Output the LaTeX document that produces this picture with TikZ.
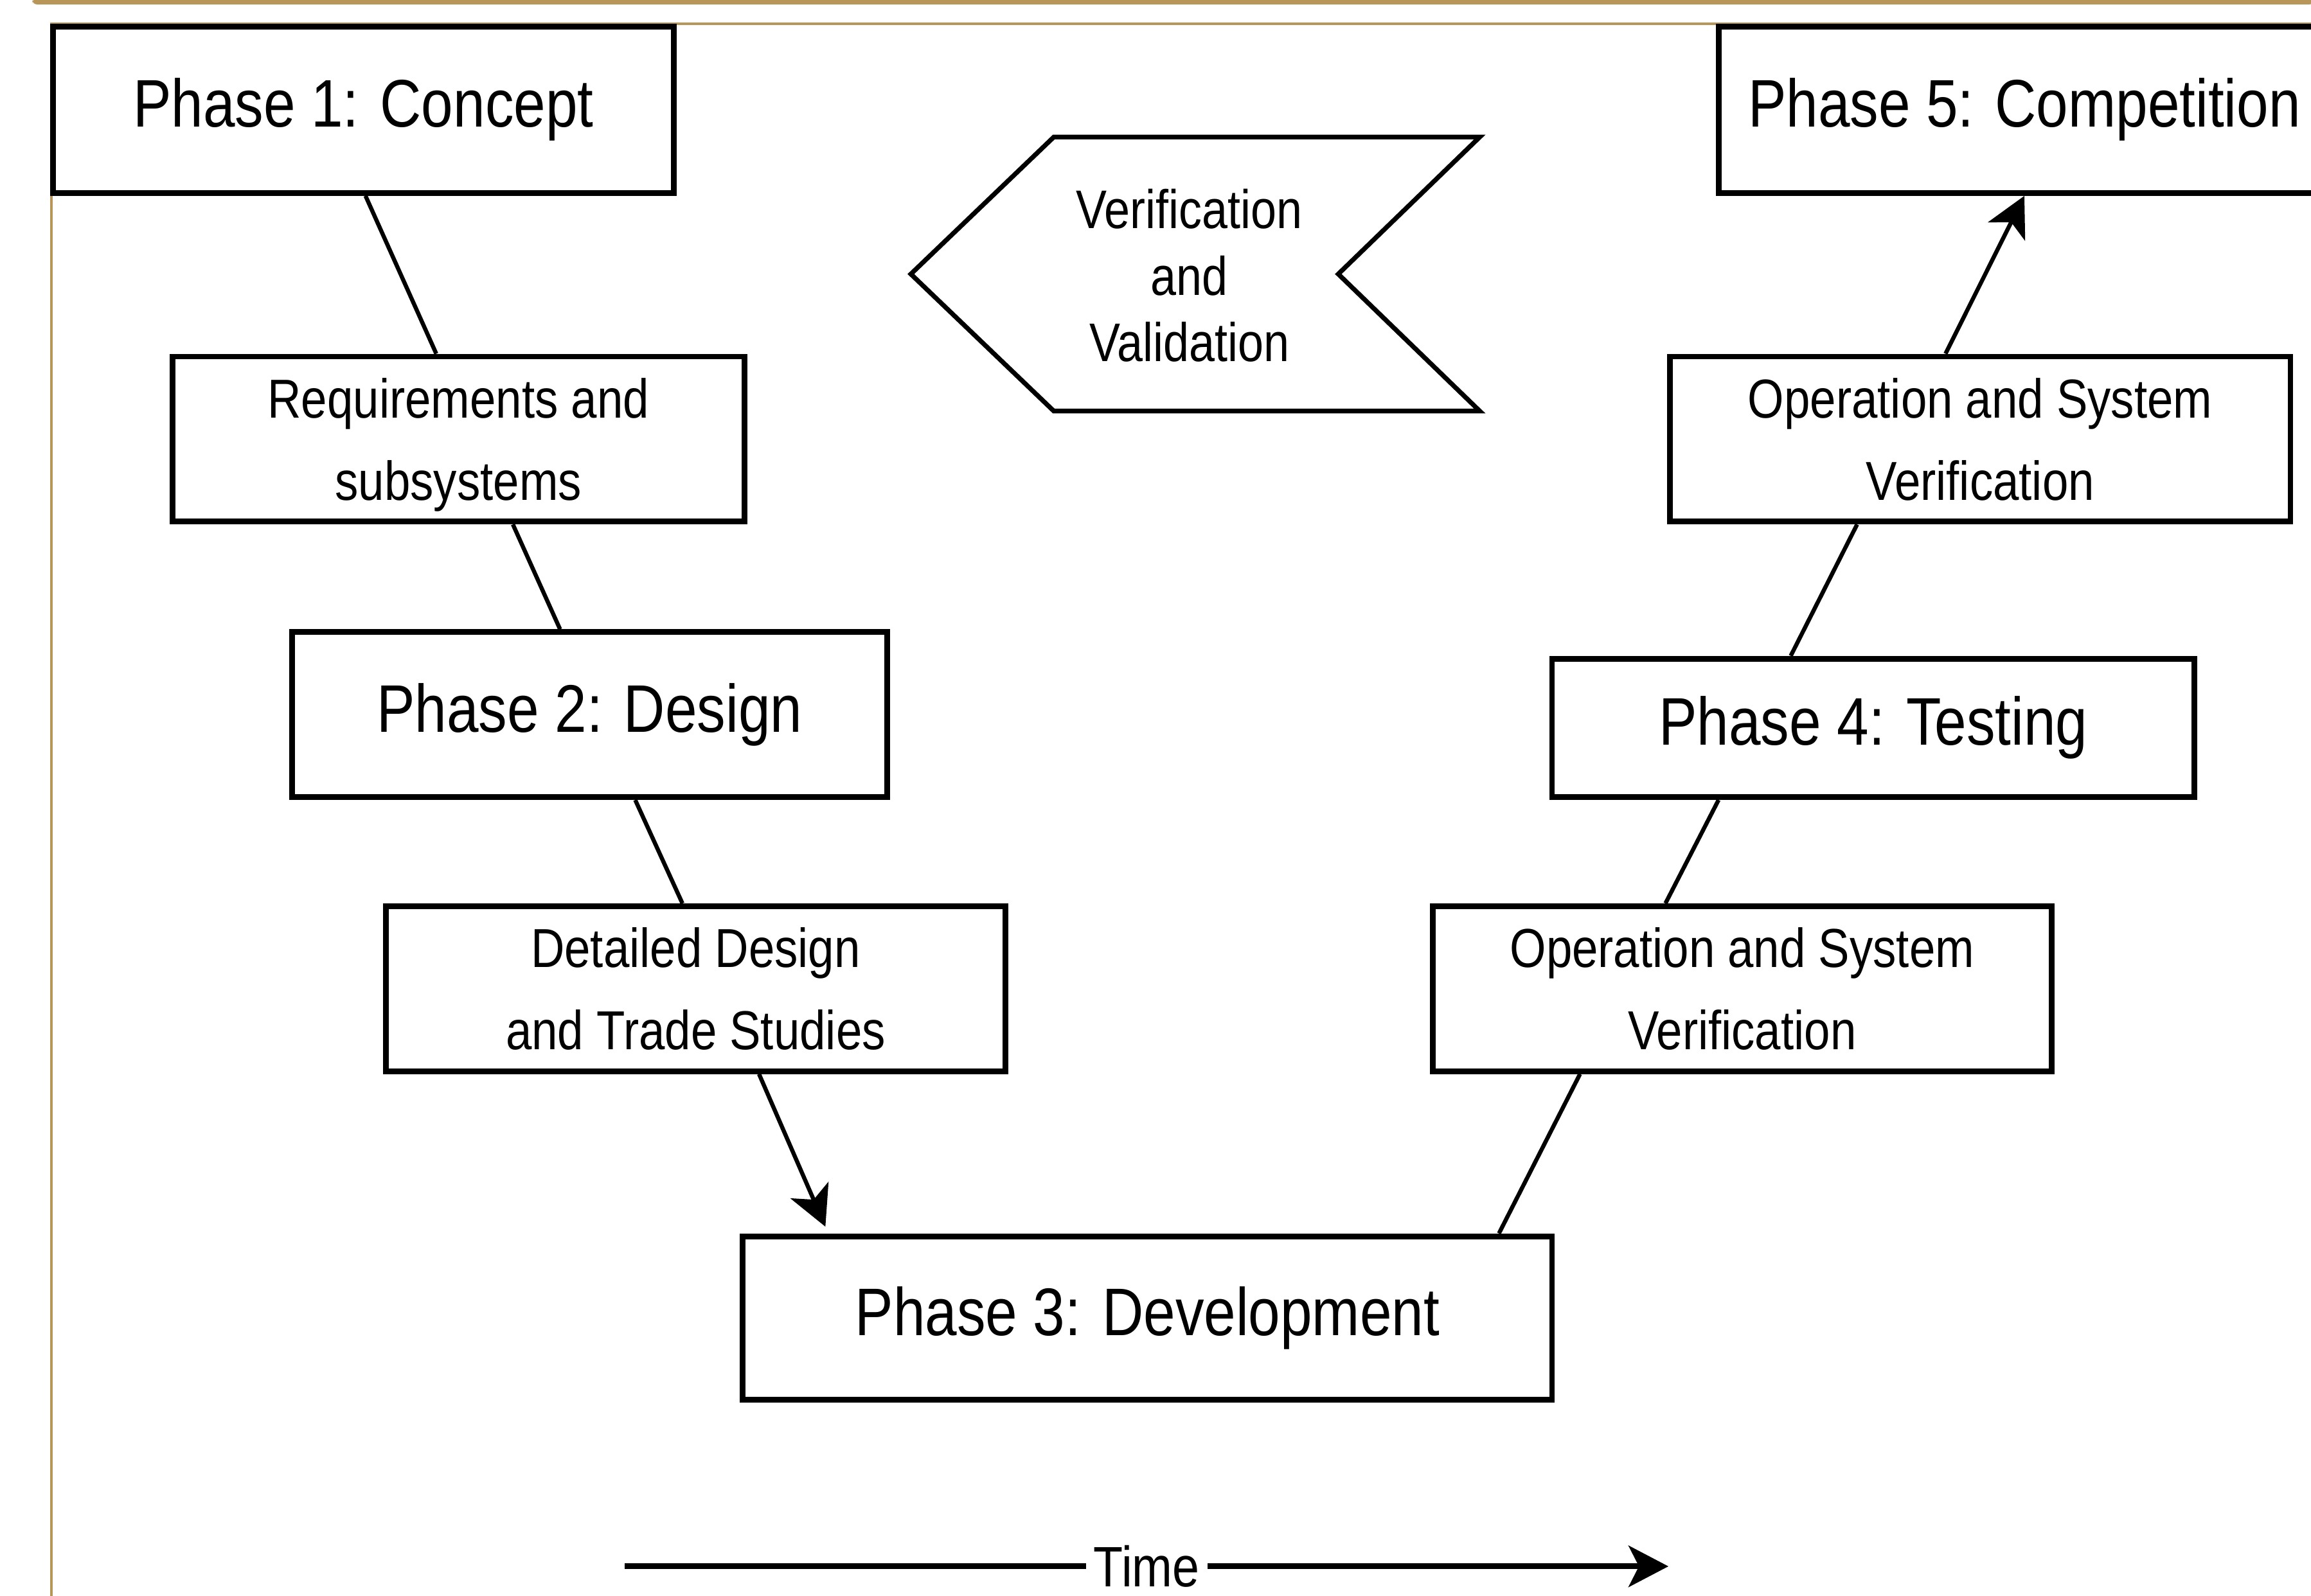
\documentclass[tikz,border=0pt]{standalone}
\usepackage{fontspec}
\setmainfont{Liberation Sans}[FakeStretch=0.85]
\usetikzlibrary{arrows.meta}
\definecolor{frameGold}{RGB}{184,150,90}

\begin{document}
\begin{tikzpicture}[>={Stealth[length=0.27cm, width=0.28cm, inset=0.07cm]},
    phasebox/.style={draw, line width=1.1pt, minimum height=1.12cm, inner sep=0pt,
      font=\fontsize{13}{15}\selectfont},
    taskbox/.style={draw, line width=1.1pt, minimum width=4.2cm, minimum height=1.12cm,
      inner sep=0pt, text depth=0pt, align=center, font=\fontsize{10.6}{15.9}\selectfont},
    link/.style={line width=0.8pt}]
  \useasboundingbox (0,0) rectangle (15.68,10.83);

  % page frame
  \fill[frameGold, rounded corners=0.03cm] (0.22,10.80) rectangle (15.70,10.84);
  \draw[frameGold, line width=0.5pt] (0.35,0) -- (0.35,10.67) -- (15.70,10.67);

  % left leg
  \node[phasebox, minimum width=4.21cm, minimum height=1.13cm] (p1) at (2.465,10.085) {Phase 1: Concept};
  \node[taskbox, minimum width=3.88cm] (req) at (3.11,7.85) {Requirements and\\subsystems};
  \node[phasebox, minimum width=4.04cm] (p2) at (4.00,5.98) {Phase 2: Design};
  \node[taskbox] (det) at (4.72,4.12) {Detailed Design\\and Trade Studies};

  % bottom
  \node[phasebox, minimum width=5.49cm, minimum height=1.11cm] (p3) at (7.785,1.885) {Phase 3: Development};

  % right leg
  \node[taskbox] (op1) at (11.82,4.12) {Operation and System\\Verification};
  \node[phasebox, minimum width=4.36cm, minimum height=0.94cm] (p4) at (12.71,5.89) {Phase 4: Testing};
  \node[taskbox, minimum width=4.21cm] (op2) at (13.435,7.85) {Operation and System\\Verification};
  \node[phasebox, minimum width=4.15cm, minimum height=1.13cm] (p5) at (13.735,10.085) {Phase 5: Competition};

  % V&V chevron
  \node[align=center, font=\fontsize{10.5}{12.8}\selectfont] (vv) at (8.07,8.96) {Verification\\and\\Validation};
  \draw[line width=0.9pt] ([xshift=-1.89cm]vv.center) ++(0,0.01) -- ++(0.97,0.93) -- ++(2.89,0)
    -- ++(-0.96,-0.93) -- ++(0.96,-0.93) -- ++(-2.89,0) -- cycle;

  \draw[link] ([xshift=0.015cm]p1.south) -- ([xshift=-0.15cm]req.north);
  \draw[link] ([xshift=0.37cm]req.south) -- ([xshift=-0.20cm]p2.north);
  \draw[link] ([xshift=0.31cm]p2.south) -- ([xshift=-0.09cm]det.north);
  \draw[link, ->, shorten >=0.05cm] ([xshift=0.43cm]det.south) -- ([xshift=-2.165cm]p3.north);
  \draw[link] ([xshift=2.385cm]p3.north) -- ([xshift=-1.10cm]op1.south);
  \draw[link] ([xshift=-0.52cm]op1.north) -- ([xshift=-1.05cm]p4.south);
  \draw[link] ([xshift=-0.56cm]p4.north) -- ([xshift=-0.835cm]op2.south);
  \draw[link, ->] ([xshift=-0.235cm]op2.north) -- (p5.south);

  % time axis
  \coordinate (tstart) at (4.24,0.20);
  \coordinate (tend) at (11.32,0.20);
  \draw[line width=1.1pt, ->] (tstart) -- node[fill=white, inner sep=1.5pt,
    font=\fontsize{11}{13}\selectfont] (time) {Time} (tend);
\end{tikzpicture}
\end{document}
